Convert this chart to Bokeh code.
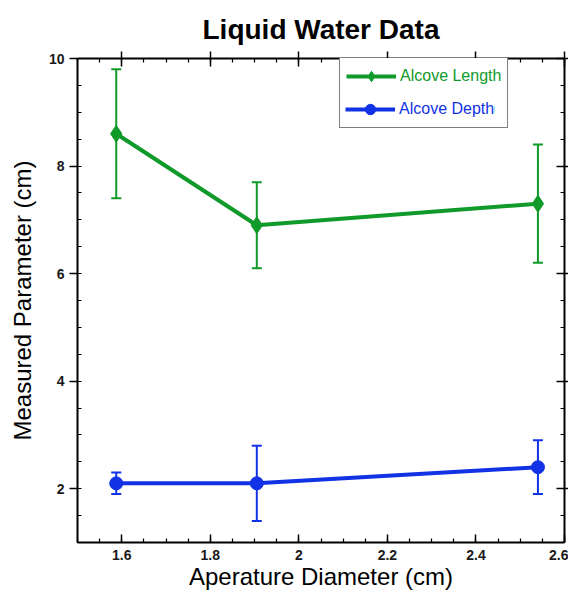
import numpy as np
from bokeh.plotting import figure
from bokeh.models import (ColumnDataSource, Whisker, TeeHead, LinearAxis, Legend, LegendItem,
                          Range1d, FixedTicker, CustomJSTickFormatter)
from bokeh.embed import file_html
from bokeh.resources import INLINE

# ---- data ----
aperture = [1.5875, 1.905, 2.54]
length_mean = [8.6, 6.9, 7.3]
length_lo = [7.4, 6.1, 6.2]
length_hi = [9.8, 7.7, 8.4]
depth_mean = [2.1, 2.1, 2.4]
depth_lo = [1.9, 1.4, 1.9]
depth_hi = [2.3, 2.8, 2.9]
x_ticks = [1.6, 1.8, 2.0, 2.2, 2.4, 2.6]
y_ticks = [2, 4, 6, 8, 10]

GREEN = "#109a2a"
BLUE = "#1232e6"
FONT = "Liberation Sans"

p = figure(width=568, height=592, output_backend="svg", toolbar_location=None,
           x_range=Range1d(1.5, 2.6), y_range=Range1d(1, 10),
           min_border_left=77, min_border_right=4, min_border_top=58, min_border_bottom=49,
           title="Liquid Water Data",
           x_axis_label="Aperature Diameter (cm)", y_axis_label="Measured Parameter (cm)")

p.outline_line_color = None
p.background_fill_color = "white"
p.grid.grid_line_color = "#f3f3f3"
p.grid.grid_line_dash = "1 3"

x_minor = list(np.round(np.arange(1.5, 2.6001, 0.05), 3))
y_minor = list(np.round(np.arange(1.0, 10.001, 0.5), 3))
xt = FixedTicker(ticks=x_ticks, minor_ticks=x_minor)
yt = FixedTicker(ticks=y_ticks, minor_ticks=y_minor)
fmt = CustomJSTickFormatter(code="return String(Math.round(tick*100)/100);")
blank = CustomJSTickFormatter(code="return '';")

p.xaxis.ticker = xt
p.yaxis.ticker = yt
p.xgrid.ticker = xt
p.ygrid.ticker = yt


def style_axis(ax, tin, tout, show_labels=True):
    ax.axis_line_color = "black"
    ax.axis_line_width = 2
    ax.major_tick_line_color = "black"
    ax.major_tick_line_width = 1.5
    ax.minor_tick_line_color = "black"
    ax.minor_tick_line_width = 1.2
    ax.major_tick_in = tin
    ax.major_tick_out = tout
    ax.minor_tick_in = 4
    ax.minor_tick_out = 0
    if show_labels:
        ax.formatter = fmt
        ax.major_label_text_font = FONT
        ax.major_label_text_font_style = "bold"
        ax.major_label_text_font_size = "14px"
        ax.major_label_text_color = "#1a1a1a"
        ax.axis_label_text_font = FONT
        ax.axis_label_text_font_style = "normal"
        ax.axis_label_text_font_size = "24px"
        ax.axis_label_text_color = "black"
    else:
        ax.formatter = blank
        ax.major_label_standoff = 0


xa = p.xaxis[0]
ya = p.yaxis[0]
style_axis(xa, 8, 0)
style_axis(ya, 0, 8)
xa.major_label_standoff = 7
xa.axis_label_standoff = 0
ya.major_label_standoff = 5
ya.axis_label_standoff = 10

top_ax = LinearAxis(ticker=xt)
right_ax = LinearAxis(ticker=yt)
style_axis(top_ax, 8, 7, show_labels=False)
style_axis(right_ax, 8, 4, show_labels=False)
p.add_layout(top_ax, "above")
p.add_layout(right_ax, "right")

p.title.text_font = FONT
p.title.text_font_size = "28px"
p.title.text_font_style = "bold"
p.title.align = "center"
p.title.text_color = "black"
p.title.vertical_align = "top"

# ---- error bars ----
src_len = ColumnDataSource(dict(x=aperture, y=length_mean, lo=length_lo, hi=length_hi))
src_dep = ColumnDataSource(dict(x=aperture, y=depth_mean, lo=depth_lo, hi=depth_hi))

for src, col in ((src_len, GREEN), (src_dep, BLUE)):
    w = Whisker(source=src, base="x", lower="lo", upper="hi",
                line_color=col, line_width=2,
                upper_head=TeeHead(size=10, line_color=col, line_width=2),
                lower_head=TeeHead(size=10, line_color=col, line_width=2))
    p.add_layout(w)

# ---- series ----
r_len_line = p.line("x", "y", source=src_len, line_color=GREEN, line_width=4)
r_len_pts = p.scatter("x", "y", source=src_len, marker="diamond", size=17,
                      fill_color=GREEN, line_color=GREEN)
r_dep_line = p.line("x", "y", source=src_dep, line_color=BLUE, line_width=4)
r_dep_pts = p.scatter("x", "y", source=src_dep, marker="circle", size=13,
                      fill_color=BLUE, line_color=BLUE)

# ---- legend (box + green label; blue label overlaid) ----
PAD = 6
common = dict(glyph_width=50, glyph_height=26, label_height=26, spacing=6,
              label_standoff=4, label_text_font=FONT, label_text_font_size="16px",
              margin=0, background_fill_color="white", background_fill_alpha=1.0)
leg_a = Legend(items=[LegendItem(label="Alcove Length", renderers=[r_len_line, r_len_pts]),
                      LegendItem(label="Alcove Depth", renderers=[r_dep_line, r_dep_pts])],
               location=(262, 414), padding=PAD, border_line_color="black",
               border_line_width=1.5, label_text_color=GREEN, **common)
leg_c = Legend(items=[LegendItem(label="Alcove Depth", renderers=[r_dep_line, r_dep_pts])],
               location=(262 + PAD, 414 + PAD), padding=0, border_line_color=None,
               label_text_color=BLUE, **common)
p.add_layout(leg_a)
p.add_layout(leg_c)

open("out.html", "w").write(file_html(p, INLINE))
